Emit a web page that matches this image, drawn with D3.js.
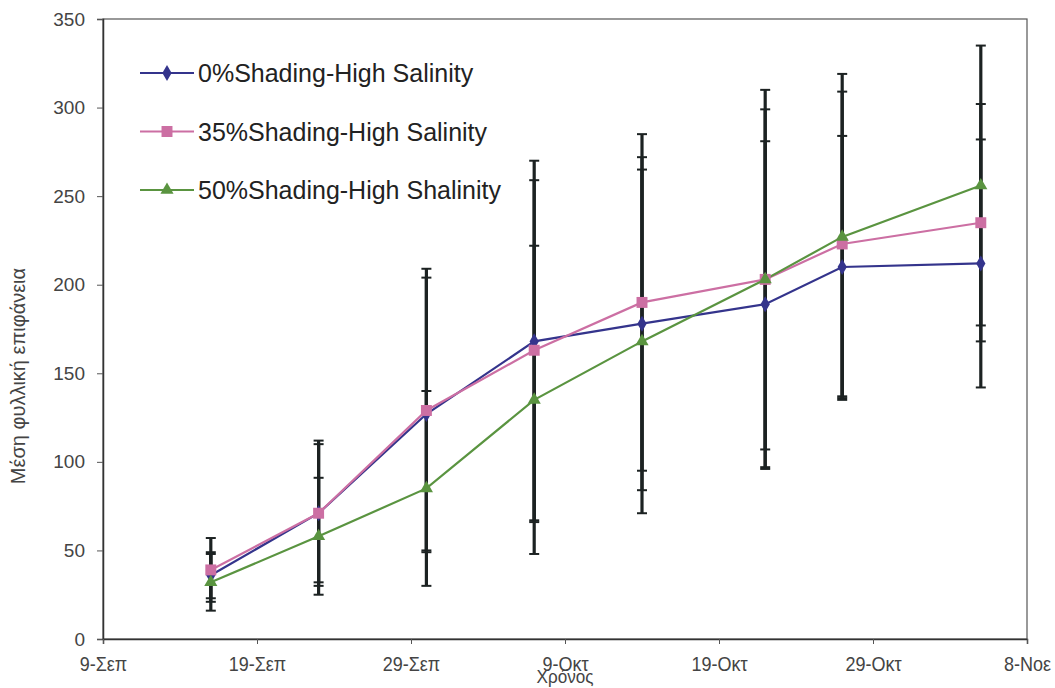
<!DOCTYPE html>
<html>
<head>
<meta charset="utf-8">
<script src="https://cdn.jsdelivr.net/npm/d3@7"></script>
<style>
  html, body { margin: 0; padding: 0; background: #fff; }
  #chart { width: 1055px; height: 688px; }
  text { font-family: "Liberation Sans", Arial, sans-serif; }
</style>
</head>
<body>
<div id="chart"></div>
<script>
// sampling dates
var dates = ['2008-09-16', '2008-09-23', '2008-09-30', '2008-10-07', '2008-10-14', '2008-10-22', '2008-10-27', '2008-11-05'];

// mean leaf area and error (+/-) per series
var shade0 = [36, 71, 127, 168, 178, 189, 210, 212];
var shade0Err = [13, 39, 77, 102, 94, 92, 74, 70];
var shade35 = [39, 71, 129, 163, 190, 203, 223, 235];
var shade35Err = [18, 41, 80, 96, 95, 96, 86, 67];
var shade50 = [32, 58, 85, 135, 168, 203, 227, 256];
var shade50Err = [16, 33, 55, 87, 97, 107, 92, 79];

var seriesNames = ['0%Shading-High Salinity', '35%Shading-High Salinity', '50%Shading-High Shalinity'];

// axis ticks
var yTicks = [0, 50, 100, 150, 200, 250, 300, 350];
var xTickDates = ['2008-09-09', '2008-09-19', '2008-09-29', '2008-10-09', '2008-10-19', '2008-10-29', '2008-11-08'];
var xTickLabels = ['9-Σεπ', '19-Σεπ', '29-Σεπ', '9-Οκτ', '19-Οκτ', '29-Οκτ', '8-Νοε'];

function LeafChart (params) {
  var attrs = {
    container: '#chart',
    width: 1055,
    height: 688,
    margin: { top: 19, right: 28, bottom: 49, left: 103 },
    colors: ['#34348c', '#cc6fa3', '#5a9440'],
    shapes: [d3.symbolDiamond, d3.symbolSquare, d3.symbolTriangle]
  };
  attrs = Object.assign(attrs, params);

  var parse = d3.timeParse('%Y-%m-%d');

  function main () {
    var svg = d3.select(attrs.container).append('svg')
      .attr('width', attrs.width)
      .attr('height', attrs.height);

    var left = attrs.margin.left;
    var right = attrs.width - attrs.margin.right;
    var top = attrs.margin.top;
    var bottom = attrs.height - attrs.margin.bottom;

    var x = d3.scaleTime()
      .domain([parse(xTickDates[0]), parse(xTickDates[xTickDates.length - 1])])
      .range([left, right]);

    var y = d3.scaleLinear()
      .domain([0, 350])
      .range([bottom, top]);

    // frame
    svg.append('rect')
      .attr('x', left).attr('y', top)
      .attr('width', right - left).attr('height', bottom - top)
      .attr('fill', 'none')
      .attr('stroke', '#555')
      .attr('stroke-width', 1.2);

    // y axis
    var yAxis = svg.append('g')
      .attr('transform', 'translate(' + left + ',0)')
      .call(d3.axisLeft(y).tickValues(yTicks).tickSize(6).tickPadding(12));
    yAxis.select('.domain').attr('stroke', '#333').attr('stroke-width', 1.5);
    yAxis.selectAll('line').attr('stroke', '#555');
    yAxis.selectAll('text')
      .attr('font-size', 19)
      .attr('fill', '#444');

    // x axis
    var xAxis = svg.append('g')
      .attr('transform', 'translate(0,' + bottom + ')')
      .call(d3.axisBottom(x)
        .tickValues(xTickDates.map(parse))
        .tickFormat(function (d, i) { return xTickLabels[i]; })
        .tickSize(5).tickPadding(13));
    xAxis.select('.domain').attr('stroke', '#333').attr('stroke-width', 1.5);
    xAxis.selectAll('line').attr('stroke', '#555');
    // condensed look: scale each label around its own tick
    xAxis.selectAll('.tick text')
      .attr('font-size', 20)
      .attr('fill', '#444')
      .attr('transform', 'scale(0.9,1)');

    // axis titles
    svg.append('text')
      .attr('transform', 'translate(25,376) rotate(-90)')
      .attr('text-anchor', 'middle')
      .attr('font-size', 20)
      .attr('fill', '#444')
      .text('Μέση φυλλική επιφάνεια');

    // x title sits over the middle tick label, as in the original
    svg.append('text')
      .attr('x', 565)
      .attr('y', 683)
      .attr('text-anchor', 'middle')
      .attr('font-size', 19)
      .attr('fill', '#444')
      .attr('transform', 'translate(565,0) scale(0.9,1) translate(-565,0)')
      .text('Χρόνος');

    var series = [
      { name: seriesNames[0], values: shade0, errors: shade0Err },
      { name: seriesNames[1], values: shade35, errors: shade35Err },
      { name: seriesNames[2], values: shade50, errors: shade50Err }
    ];

    var line = d3.line()
      .x(function (d) { return x(d.date); })
      .y(function (d) { return y(d.value); });

    series.forEach(function (s) {
      s.points = s.values.map(function (v, i) {
        return { date: parse(dates[i]), value: v, err: s.errors[i] };
      });
    });

    // lines
    svg.selectAll('path.series')
      .data(series)
      .enter().append('path')
      .attr('class', 'series')
      .attr('d', function (d) { return line(d.points); })
      .attr('fill', 'none')
      .attr('stroke', function (d, i) { return attrs.colors[i]; })
      .attr('stroke-width', 2.2);

    // error bars
    series.forEach(function (s) {
      var g = svg.append('g').attr('class', 'errors');
      g.selectAll('line.bar')
        .data(s.points)
        .enter().append('line')
        .attr('x1', function (d) { return x(d.date); })
        .attr('x2', function (d) { return x(d.date); })
        .attr('y1', function (d) { return y(d.value - d.err); })
        .attr('y2', function (d) { return y(d.value + d.err); })
        .attr('stroke', '#1c2222')
        .attr('stroke-width', 3.2);
      [-1, 1].forEach(function (sign) {
        g.selectAll('line.cap' + sign)
          .data(s.points)
          .enter().append('line')
          .attr('x1', function (d) { return x(d.date) - 5; })
          .attr('x2', function (d) { return x(d.date) + 5; })
          .attr('y1', function (d) { return y(d.value + sign * d.err); })
          .attr('y2', function (d) { return y(d.value + sign * d.err); })
          .attr('stroke', '#1c2222')
          .attr('stroke-width', 2);
      });
    });

    // markers
    series.forEach(function (s, i) {
      svg.append('g').selectAll('path')
        .data(s.points)
        .enter().append('path')
        .attr('transform', function (d) { return 'translate(' + x(d.date) + ',' + y(d.value) + ')'; })
        .attr('d', d3.symbol().type(attrs.shapes[i]).size(i === 1 ? 120 : 75))
        .attr('fill', attrs.colors[i]);
    });

    // legend
    var legend = svg.append('g').attr('transform', 'translate(140,73)');
    var item = legend.selectAll('g')
      .data(series)
      .enter().append('g')
      .attr('transform', function (d, i) { return 'translate(0,' + (i * 58.5) + ')'; });
    item.append('line')
      .attr('x1', 0).attr('x2', 54)
      .attr('stroke', function (d, i) { return attrs.colors[i]; })
      .attr('stroke-width', 2.2);
    item.append('path')
      .attr('transform', 'translate(27,0)')
      .attr('d', function (d, i) { return d3.symbol().type(attrs.shapes[i]).size(i === 1 ? 120 : 75)(); })
      .attr('fill', function (d, i) { return attrs.colors[i]; });
    item.append('text')
      .attr('x', 58)
      .attr('y', 9)
      .attr('font-size', 25)
      .attr('fill', '#222')
      .text(function (d) { return d.name; });
  }

  main.render = function () {
    main();
    return main;
  };

  return main;
}

LeafChart().render();
</script>
</body>
</html>
